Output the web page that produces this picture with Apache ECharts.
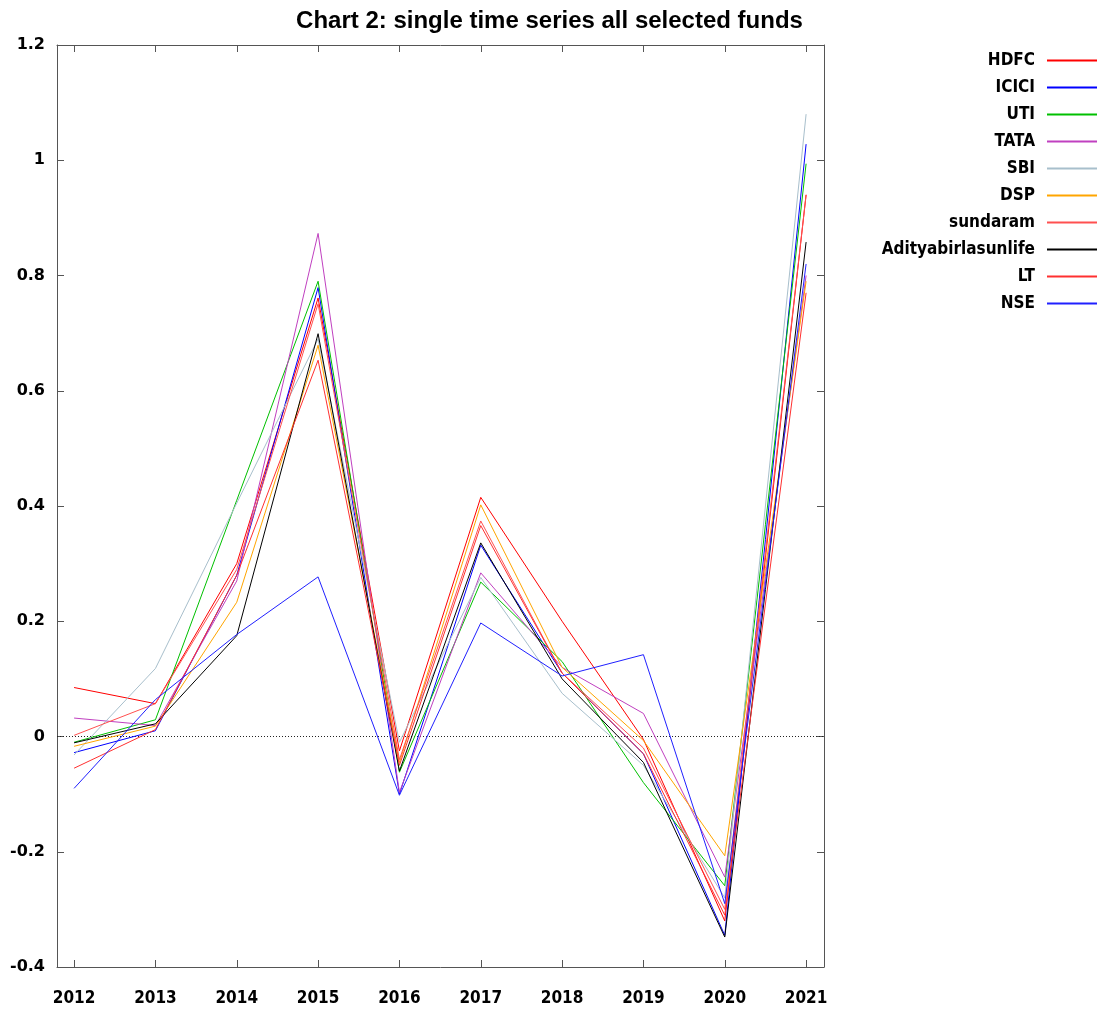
<!DOCTYPE html>
<html>
<head>
<meta charset="utf-8">
<script src="https://cdn.jsdelivr.net/npm/echarts@6/dist/echarts.min.js"></script>
<style>html,body{margin:0;padding:0;background:#fff}#c{width:1099px;height:1011px}</style>
</head>
<body>
<div id="c"></div>
<script>
var years = [2012, 2013, 2014, 2015, 2016, 2017, 2018, 2019, 2020, 2021];
var yTicks = [-0.4, -0.2, 0, 0.2, 0.4, 0.6, 0.8, 1, 1.2];
var names = ['HDFC', 'ICICI', 'UTI', 'TATA', 'SBI', 'DSP', 'sundaram', 'Adityabirlasunlife', 'LT', 'NSE'];
var HDFC     = [0.085, 0.057, 0.300, 0.761, -0.025, 0.415, 0.200, -0.005, -0.320, 0.940];
var ICICI    = [-0.028, 0.010, 0.280, 0.779, -0.100, 0.332, 0.110, -0.030, -0.345, 1.028];
var UTI      = [-0.010, 0.029, 0.410, 0.790, -0.062, 0.268, 0.130, -0.080, -0.259, 0.994];
var TATA     = [0.032, 0.019, 0.270, 0.873, -0.097, 0.284, 0.120, 0.040, -0.244, 0.800];
var SBI      = [-0.032, 0.118, 0.405, 0.690, -0.010, 0.276, 0.075, -0.050, -0.280, 1.080];
var DSP      = [-0.017, 0.018, 0.233, 0.679, -0.045, 0.402, 0.120, -0.007, -0.207, 0.790];
var sundaram = [0.002, 0.057, 0.290, 0.751, -0.040, 0.374, 0.110, -0.020, -0.300, 0.940];
var Aditya   = [-0.011, 0.022, 0.175, 0.699, -0.060, 0.336, 0.100, -0.045, -0.348, 0.858];
var LT       = [-0.055, 0.012, 0.280, 0.653, -0.050, 0.366, 0.110, -0.030, -0.310, 0.770];
var NSE      = [-0.090, 0.064, 0.177, 0.277, -0.102, 0.197, 0.105, 0.142, -0.290, 0.820];
var values = [HDFC, ICICI, UTI, TATA, SBI, DSP, sundaram, Aditya, LT, NSE];
var colors = ['#ff0000', '#0000ff', '#00c000', '#c040c0', '#a8bfcc', '#ffa500', '#ff5050', '#000000', '#ff3030', '#2020ff'];

var series = names.map(function (n, i) {
  return {
    name: n,
    type: 'line',
    symbol: 'none',
    showSymbol: false,
    lineStyle: { width: 1, color: colors[i] },
    itemStyle: { color: colors[i] },
    data: years.map(function (y, j) { return [y, values[i][j]]; }),
    z: 3
  };
});
series[0].markLine = {
  silent: true,
  symbol: 'none',
  label: { show: false },
  lineStyle: { color: '#222', type: [1, 2], width: 1 },
  data: [{ yAxis: 0 }],
  z: 1
};

var axisLineStyle = { color: '#555', width: 1 };
var chart = echarts.init(document.getElementById('c'), null, { renderer: 'canvas' });
chart.setOption({
  animation: false,
  backgroundColor: '#fff',
  color: colors,
  title: {
    text: 'Chart 2: single time series all selected funds',
    left: 'center',
    top: 4,
    textStyle: { fontFamily: 'Liberation Sans', fontWeight: 'bold', fontSize: 24, color: '#000' }
  },
  legend: {
    orient: 'vertical',
    right: 1,
    top: 52,
    padding: 0,
    align: 'right',
    itemWidth: 50,
    itemHeight: 16,
    itemGap: 10,
    data: names,
    itemStyle: { opacity: 0 },
    textStyle: { fontFamily: 'DejaVu Sans Condensed', fontWeight: 'bold', fontSize: 17, color: '#000', padding: [0, 7, 0, 0] }
  },
  grid: { left: 57, right: 275, top: 45, bottom: 44, containLabel: false },
  xAxis: [{
    type: 'value',
    min: 2011.79,
    max: 2021.22,
    position: 'bottom',
    axisLine: { show: true, onZero: false, lineStyle: axisLineStyle },
    axisTick: { show: true, inside: true, length: 7, lineStyle: axisLineStyle, customValues: years },
    axisLabel: { show: true, customValues: years, margin: 23, fontFamily: 'DejaVu Sans Condensed', fontWeight: 'bold', fontSize: 17, color: '#000', formatter: function (v) { return String(Math.round(v)); } },
    splitLine: { show: false }
  }, {
    type: 'value',
    min: 2011.79,
    max: 2021.22,
    position: 'top',
    axisLine: { show: true, onZero: false, lineStyle: axisLineStyle },
    axisTick: { show: true, inside: true, length: 7, lineStyle: axisLineStyle, customValues: years },
    axisLabel: { show: false },
    splitLine: { show: false }
  }],
  yAxis: [{
    type: 'value',
    min: -0.4,
    max: 1.2,
    interval: 0.2,
    position: 'left',
    axisLine: { show: true, onZero: false, lineStyle: axisLineStyle },
    axisTick: { show: true, inside: true, length: 7, lineStyle: axisLineStyle },
    axisLabel: { show: true, margin: 12, fontFamily: 'DejaVu Sans', fontWeight: 'bold', fontSize: 16, color: '#000',
      formatter: function (v) { return String(Math.round(v * 10) / 10); } },
    splitLine: { show: false }
  }, {
    type: 'value',
    min: -0.4,
    max: 1.2,
    interval: 0.2,
    position: 'right',
    axisLine: { show: true, onZero: false, lineStyle: axisLineStyle },
    axisTick: { show: true, inside: true, length: 7, lineStyle: axisLineStyle },
    axisLabel: { show: false },
    splitLine: { show: false }
  }],
  series: series
});
</script>
</body>
</html>
